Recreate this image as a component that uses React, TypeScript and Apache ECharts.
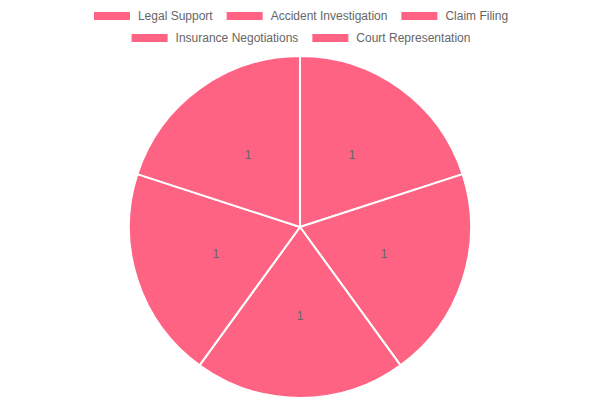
import { useRef, useEffect } from 'react'
import * as echarts from 'echarts'

const categories = [
  'Legal Support',
  'Accident Investigation',
  'Claim Filing',
  'Insurance Negotiations',
  'Court Representation',
]
const values = [1, 1, 1, 1, 1]
const sliceColor = '#FF6384'

export default function App() {
  const chartRef = useRef<HTMLDivElement>(null)

  useEffect(() => {
    document.body.style.margin = '0'
    if (!chartRef.current) return
    const instance = echarts.init(chartRef.current, undefined, { renderer: 'svg' })

    const legendBase = {
      left: 'center',
      itemWidth: 38,
      itemHeight: 10,
      itemGap: 12,
      icon: 'rect',
      textStyle: {
        color: '#666',
        fontSize: 12,
        fontFamily: 'Liberation Sans, Arial, sans-serif',
        padding: [0, 0, 0, 2],
      },
    }

    instance.setOption({
      animation: false,
      color: [sliceColor],
      legend: [
        { ...legendBase, top: 5, data: categories.slice(0, 3) },
        { ...legendBase, top: 27, data: categories.slice(3) },
      ],
      series: [
        {
          type: 'pie',
          center: ['50%', 227],
          radius: 171,
          startAngle: 90,
          clockwise: true,
          data: categories.map((name, i) => ({ name, value: values[i] })),
          itemStyle: { color: sliceColor, borderColor: '#fff', borderWidth: 2 },
          label: {
            show: true,
            position: 'inside',
            formatter: '{c}',
            color: '#666',
            fontSize: 12,
            fontFamily: 'Liberation Sans, Arial, sans-serif',
          },
          labelLine: { show: false },
          emphasis: { disabled: true },
        },
      ],
    })

    return () => {
      instance.dispose()
    }
  }, [])

  return <div ref={chartRef} style={{ width: 600, height: 400 }} />
}
